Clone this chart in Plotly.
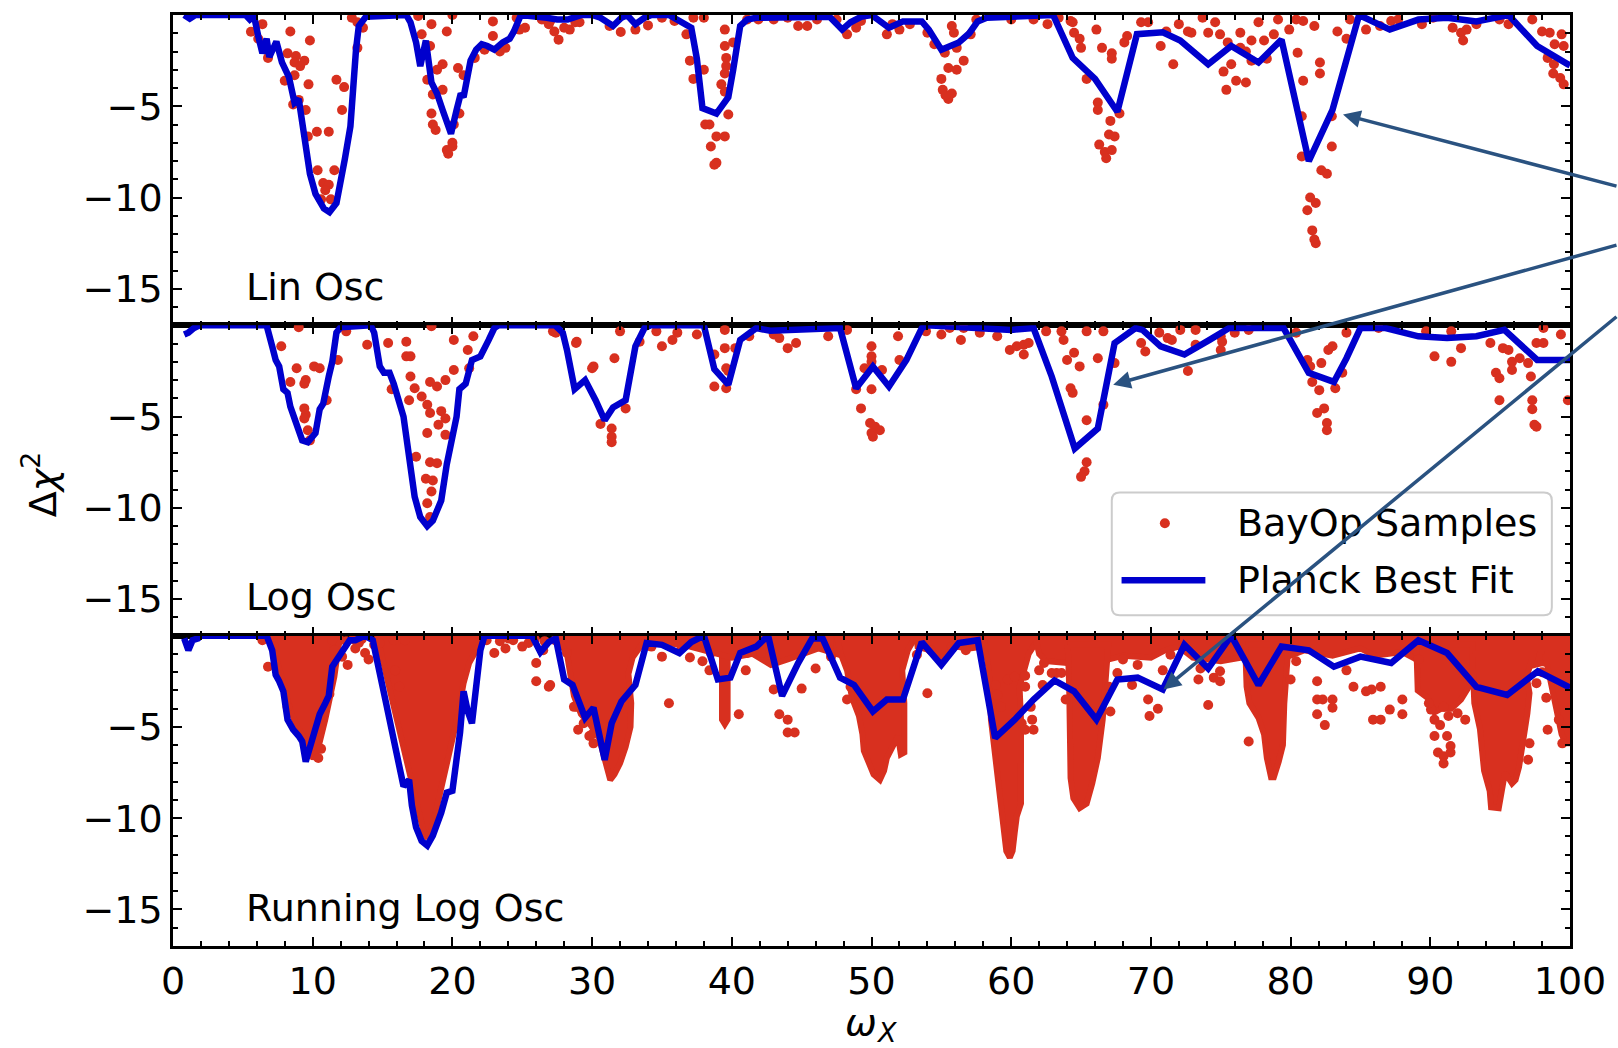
import plotly.graph_objects as go
from plotly.subplots import make_subplots

# ---------------------------------------------------------------------------
# Planck best-fit Delta chi^2 as a function of omega_X, one curve per model
# ---------------------------------------------------------------------------
lin_fit = [
    (0.8, 0.0), (1.2, -0.2), (1.6, 0.0), (5.2, 0.0), (5.5, -0.25), (5.8, -0.05),
    (6.1, -1.15), (6.4, -2.1), (6.7, -1.3), (6.9, -2.3), (7.4, -1.45), (7.8, -2.6),
    (8.3, -3.4), (8.7, -4.8), (9.0, -4.6), (9.4, -6.85), (9.8, -8.7), (10.2, -9.8),
    (10.8, -10.6), (11.2, -10.8), (11.7, -10.3), (12.3, -7.9), (12.7, -6.1),
    (13.1, -1.9), (13.3, -0.6), (13.8, -0.1), (16.7, 0.0), (17.0, -0.4), (17.4, -1.5),
    (17.7, -2.8), (18.1, -1.4), (18.5, -3.7), (18.9, -4.3), (19.3, -5.2), (19.9, -6.5),
    (20.3, -5.2), (20.6, -4.3), (20.8, -4.5), (21.3, -2.5), (21.7, -1.9), (22.1, -1.6),
    (22.5, -1.7), (23.0, -1.9), (23.6, -1.5), (24.1, -1.3), (24.4, -0.9), (24.9, 0.0),
    (26.75, -0.15), (27.5, -0.25), (28.25, -0.25), (29.25, 0.0), (30.0, 0.0),
    (30.6, -0.15), (31.5, -0.6), (32.1, -0.15), (32.5, 0.0), (33.1, -0.5),
    (33.75, -0.15), (34.25, 0.0), (35.5, 0.0), (36.0, -0.25), (37.1, -0.7),
    (37.5, -2.4), (37.9, -5.1), (38.9, -5.4), (39.75, -4.5), (40.1, -3.0), (40.6, -0.6),
    (41.1, -0.25), (41.75, -0.15), (47.0, -0.1), (47.9, -0.8), (48.5, -0.4),
    (49.25, -0.1), (50.0, 0.0), (50.5, -0.25), (51.25, -0.7), (52.25, -0.35),
    (53.6, -0.35), (54.1, -0.8), (55.0, -1.9), (56.25, -1.5), (57.0, -1.0),
    (57.6, -0.35), (58.25, -0.15), (63.0, 0.0), (64.4, -2.35), (66.0, -3.5),
    (67.6, -5.3), (69.0, -1.05), (70.85, -0.95), (72.1, -1.4), (74.1, -2.7),
    (75.75, -1.7), (77.7, -2.6), (79.35, -1.35), (81.3, -8.0), (83.0, -5.2),
    (84.9, 0.0), (87.1, -0.8), (89.15, -0.25), (91.2, -0.15), (93.3, -0.35),
    (95.6, 0.0), (97.65, -1.7), (99.85, -2.7), (100.0, -2.75),
]

log_fit = [
    (0.8, -0.5), (1.1, -0.4), (1.5, -0.15), (1.9, 0.0), (6.7, 0.0), (6.8, -0.4),
    (7.1, -1.15), (7.35, -1.9), (7.6, -2.25), (7.9, -3.5), (8.2, -3.7), (8.4, -4.45),
    (8.85, -5.4), (9.25, -6.3), (9.65, -6.4), (10.2, -5.9), (10.5, -4.6),
    (10.75, -4.3), (11.15, -2.8), (11.4, -2.0), (11.7, -0.4), (12.0, -0.1),
    (14.15, 0.0), (14.4, -0.4), (14.8, -2.25), (15.1, -2.6), (15.5, -2.6),
    (15.8, -3.2), (16.5, -5.0), (16.9, -7.2), (17.3, -9.4), (17.7, -10.5),
    (18.2, -11.0), (18.6, -10.7), (19.2, -9.6), (19.6, -7.6), (20.0, -6.3),
    (20.3, -5.0), (20.5, -3.5), (20.95, -3.2), (21.4, -1.9), (22.0, -1.7),
    (22.6, -0.8), (23.0, -0.15), (23.3, 0.0), (27.35, 0.0), (27.9, -0.4),
    (28.2, -1.35), (28.75, -3.5), (29.5, -3.0), (30.25, -4.1), (30.9, -5.2),
    (31.5, -4.5), (32.4, -4.1), (33.1, -1.15), (33.75, -0.15), (34.2, 0.0),
    (38.0, 0.0), (38.75, -2.4), (39.75, -3.25), (40.6, -0.8), (41.75, -0.15),
    (42.75, -0.3), (44.25, -0.25), (46.0, -0.15), (47.75, -0.15), (48.9, -3.45),
    (50.1, -2.25), (51.25, -3.35), (52.5, -1.9), (53.6, -0.15), (54.0, 0.0),
    (60.0, -0.25), (61.6, -0.15), (62.9, -2.8), (64.55, -6.75), (66.2, -5.65),
    (67.4, -0.97), (68.9, -0.15), (69.4, -0.25), (70.7, -1.15), (72.4, -1.6),
    (74.2, -0.8), (75.6, -0.15), (79.5, -0.15), (81.3, -2.6), (83.1, -3.1),
    (84.0, -1.8), (85.0, -0.15), (86.8, -0.15), (89.15, -0.6), (91.2, -0.7),
    (93.3, -0.6), (95.3, -0.25), (97.65, -1.9), (99.85, -1.9), (100.0, -1.9),
]

run_fit = [
    (0.8, -0.15), (1.1, -0.8), (1.4, -0.25), (1.8, -0.15), (2.0, 0.0), (6.7, 0.0),
    (7.1, -0.8), (7.35, -2.15), (7.6, -2.5), (7.9, -3.05), (8.2, -4.6), (8.6, -5.15),
    (9.0, -5.5), (9.25, -5.8), (9.5, -6.9), (9.8, -6.05), (10.1, -5.3), (10.5, -4.3),
    (10.9, -3.7), (11.15, -3.3), (11.4, -1.7), (11.8, -1.2), (12.25, -0.6),
    (12.65, -0.25), (13.05, -0.25), (13.75, 0.0), (14.3, -0.25), (14.8, -1.9),
    (15.2, -3.5), (15.65, -5.15), (16.05, -6.8), (16.5, -8.25), (16.9, -7.9),
    (17.1, -9.3), (17.4, -10.5), (17.8, -11.25), (18.2, -11.5), (18.6, -10.95),
    (19.2, -9.7), (19.6, -8.6), (20.0, -8.5), (20.3, -6.8), (20.55, -5.3),
    (20.8, -3.05), (21.1, -4.15), (21.4, -4.8), (21.6, -3.15), (22.0, -0.8),
    (22.3, 0.0), (25.7, 0.0), (26.3, -0.9), (26.9, -0.35), (27.4, -0.15),
    (28.0, -2.4), (28.6, -2.7), (29.5, -4.5), (30.1, -3.95), (30.9, -6.8),
    (31.4, -4.8), (32.1, -3.6), (33.1, -2.7), (33.9, -0.4), (35.0, -0.5),
    (36.25, -0.95), (37.1, -0.35), (38.0, 0.0), (39.0, -2.4), (39.9, -2.3),
    (40.6, -0.95), (41.75, -0.6), (42.6, 0.0), (43.6, -3.3), (44.75, -1.5),
    (45.75, -0.15), (46.5, -0.15), (47.75, -2.3), (48.75, -2.7), (50.1, -4.15),
    (51.1, -3.5), (52.25, -3.5), (53.6, -0.35), (55.0, -1.6), (56.25, -0.4),
    (57.6, -0.25), (58.85, -5.6), (60.25, -4.6), (61.6, -3.5), (63.1, -2.45),
    (64.5, -3.05), (66.1, -4.6), (67.6, -2.4), (69.05, -2.3), (70.85, -2.95),
    (72.4, -0.5), (74.1, -1.8), (75.75, 0.0), (77.7, -2.7), (79.35, -0.6),
    (81.3, -0.8), (83.1, -1.7), (85.0, -1.15), (87.2, -1.5), (89.15, -0.25),
    (91.2, -0.95), (93.3, -2.8), (95.5, -3.25), (97.7, -1.95), (99.85, -2.8),
    (100.0, -2.85),
]

# ---------------------------------------------------------------------------
# BayOp samples (omega_X, Delta chi^2)
# ---------------------------------------------------------------------------
lin_samples = [
    (5.58, -0.92), (6.4, -0.5), (6.1, -1.3), (8.4, -0.9), (9.8, -1.4), (6.8, -2.35),
    (8.2, -2.1), (8.8, -2.25), (8.7, -2.6), (9.4, -2.5), (9.1, -2.8), (8.7, -3.3),
    (8.0, -3.6), (9.7, -3.8), (9.0, -4.65), (8.6, -4.9), (9.5, -5.2), (11.7, -3.55),
    (12.25, -3.95), (12.1, -5.2), (10.3, -6.4), (11.15, -6.4), (9.65, -6.65),
    (10.35, -8.5), (11.55, -8.5), (10.75, -9.2), (11.15, -9.3), (10.6, -10.1),
    (11.3, -10.1), (10.9, -9.6), (13.2, -0.4), (13.6, -0.7), (13.2, -1.8), (12.8, -0.15),
    (17.55, -0.05), (18.5, -0.5), (20.0, 0.0), (19.6, -0.9), (17.8, -1.05), (18.4, -1.7),
    (19.3, -2.7), (18.9, -3.0), (20.4, -2.9), (20.8, -3.3), (18.2, -3.55), (18.6, -4.35),
    (19.3, -4.1), (18.5, -5.4), (18.6, -6.0), (18.8, -6.3), (20.1, -6.0), (20.5, -5.4),
    (19.6, -7.4), (20.0, -7.2), (19.7, -7.6), (20.0, -7.0), (21.6, -2.35), (22.3, -1.9),
    (22.9, -0.35), (22.9, -1.15), (23.4, -2.0), (23.8, -1.8), (24.8, -0.8), (25.2, -0.7),
    (24.6, -0.15), (26.4, -0.25), (26.9, -0.5), (27.3, -0.9), (27.6, -1.35), (28.0, -0.7),
    (28.4, -0.8), (28.8, -0.4), (27.0, -0.33), (29.1, -0.4), (31.25, -0.6),
    (32.05, -0.93), (33.1, -0.8), (34.0, -0.57), (35.0, -0.15), (35.9, -0.33),
    (36.75, -1.06), (37.0, -2.5), (37.25, -3.5), (38.0, -3.0), (37.25, -0.15),
    (38.0, -0.15), (39.5, -0.8), (39.5, -1.7), (40.1, -1.5), (39.6, -2.35), (39.6, -2.8),
    (39.5, -3.2), (39.25, -3.8), (39.5, -4.2), (39.75, -5.45), (38.1, -6.0), (38.4, -6.0),
    (38.9, -6.65), (39.5, -6.65), (38.5, -7.2), (38.9, -8.1), (38.75, -8.2),
    (41.1, -0.25), (41.9, -0.25), (43.0, -0.25), (44.0, -0.15), (44.75, -0.6),
    (45.4, -0.6), (46.1, -0.25), (47.5, -0.25), (48.25, -1.06), (48.9, -0.7),
    (49.25, -0.33), (51.1, -1.06), (51.5, -0.5), (52.0, -0.8), (52.75, -0.5),
    (54.0, -0.97), (54.5, -1.6), (55.25, -2.07), (55.75, -0.6), (55.9, -0.97),
    (56.1, -1.8), (56.6, -2.5), (55.5, -2.9), (56.1, -3.0), (55.0, -3.5), (55.1, -4.1),
    (55.75, -4.3), (55.5, -4.6), (55.3, -4.4), (57.1, -1.06), (57.5, -0.25),
    (60.0, -0.25), (61.6, -0.25), (62.6, -0.5), (63.4, -0.15), (64.25, -0.33),
    (64.4, -0.4), (64.5, -0.97), (64.9, -1.3), (65.0, -1.8), (66.1, -0.8), (66.5, -1.8),
    (67.2, -2.1), (67.2, -2.4), (65.4, -3.5), (66.2, -4.8), (66.2, -5.2), (67.1, -5.8),
    (67.0, -6.55), (67.4, -6.65), (66.3, -7.1), (66.7, -7.5), (66.8, -7.85),
    (67.2, -7.4), (67.75, -5.4), (68.3, -1.15), (68.1, -1.5), (69.3, -0.4), (69.8, -0.4),
    (70.7, -1.7), (71.6, -2.7), (71.1, -0.9), (72.0, -0.5), (72.65, -0.9), (72.9, -0.97),
    (73.7, -0.15), (74.1, -0.97), (74.6, -0.4), (74.95, -1.06), (75.2, -3.1),
    (75.4, -4.1), (75.75, -2.7), (75.5, -1.5), (76.1, -3.6), (76.4, -0.97), (76.8, -3.7),
    (77.2, -2.5), (76.8, -2.0), (76.4, -1.8), (77.2, -1.4), (77.7, -0.4), (78.1, -1.4),
    (78.3, -2.4), (78.8, -1.06), (79.1, -0.25), (79.9, -0.8), (80.4, -0.25),
    (80.9, -0.33), (81.7, -0.6), (80.5, -2.07), (80.9, -3.6), (82.1, -2.6), (82.1, -3.2),
    (80.8, -5.55), (82.95, -5.55), (82.95, -7.2), (80.8, -7.75), (82.2, -8.5),
    (82.6, -8.7), (81.4, -10.0), (81.8, -10.3), (81.2, -10.7), (81.55, -11.8),
    (81.7, -12.3), (81.8, -12.5), (83.35, -0.9), (84.0, -1.3), (84.25, -0.25),
    (85.4, -0.8), (86.4, -0.6), (87.2, -0.33), (87.7, -0.25), (89.4, -0.5), (90.2, -0.15),
    (91.6, -0.7), (92.2, -0.97), (92.35, -1.4), (92.6, -0.8), (93.3, -0.5), (94.95, -0.25),
    (95.6, -0.5), (97.3, -0.25), (98.0, -0.9), (98.55, -0.97), (98.4, -2.35),
    (98.9, -1.6), (99.4, -1.06), (99.55, -1.7), (98.8, -3.2), (99.3, -3.45),
    (99.55, -3.8), (98.85, -2.7),
]

log_samples = [
    (9.0, -0.1), (7.75, -1.15), (8.85, -2.35), (8.4, -3.1), (9.5, -3.0), (9.4, -3.2),
    (10.1, -2.25), (10.5, -2.35), (11.0, -4.1), (11.8, -1.9), (9.4, -4.55), (9.5, -4.9),
    (9.4, -5.1), (9.65, -5.75), (9.8, -6.3), (12.4, -0.33), (13.9, -1.06), (15.4, -0.97),
    (16.7, -0.9), (16.7, -1.7), (17.0, -1.7), (15.65, -3.5), (16.9, -4.1), (17.0, -2.8),
    (17.3, -3.45), (17.8, -3.9), (18.4, -3.1), (18.9, -3.35), (19.5, -3.0), (20.1, -2.45),
    (21.2, -2.35), (20.1, -0.8), (21.5, -0.6), (21.1, -1.35), (18.5, -0.05), (18.2, -4.35),
    (18.4, -4.8), (19.2, -4.7), (19.5, -5.1), (19.0, -5.45), (19.5, -6.0), (18.2, -5.9),
    (17.4, -7.2), (18.4, -7.5), (18.9, -7.55), (18.1, -8.4), (18.6, -8.5), (18.5, -9.1),
    (18.2, -9.75), (18.4, -10.5), (28.85, -0.97), (30.1, -2.25), (27.2, -0.33),
    (27.4, -0.4), (28.9, -0.9), (30.0, -2.35), (31.6, -1.8), (32.0, -0.33), (32.4, -4.55),
    (30.6, -5.4), (31.4, -5.65), (31.4, -6.1), (31.4, -6.4), (33.4, -0.9), (34.6, -0.33),
    (35.0, -1.15), (35.75, -0.8), (36.1, -0.4), (37.5, -0.5), (39.5, -0.25), (39.5, -1.25),
    (38.75, -1.6), (40.25, -1.25), (39.6, -2.35), (39.75, -2.5), (38.75, -3.35),
    (39.6, -3.45), (41.25, -0.6), (43.0, -0.5), (43.4, -0.7), (44.0, -1.25), (44.6, -0.97),
    (46.9, -0.6), (48.25, -0.25), (48.9, -3.5), (49.25, -4.55), (49.5, -2.35),
    (50.0, -1.15), (50.0, -1.7), (50.0, -2.0), (50.0, -3.5), (50.75, -2.45),
    (49.9, -5.35), (50.25, -5.55), (50.6, -5.75), (50.0, -5.9), (50.1, -6.1),
    (51.9, -0.6), (52.0, -1.9), (53.9, -0.33), (55.0, -0.5), (55.6, -0.15), (56.4, -0.8),
    (56.6, -0.15), (57.75, -0.4), (59.0, -0.6), (59.9, -1.35), (60.4, -1.15),
    (60.9, -1.6), (60.9, -1.06), (61.25, -0.97), (62.5, -0.33), (63.6, -0.33),
    (63.75, -0.8), (64.5, -1.5), (64.0, -1.9), (64.9, -2.25), (64.25, -3.45),
    (64.4, -3.7), (65.4, -5.2), (65.4, -7.5), (65.25, -8.0), (65.0, -8.3), (65.4, -0.33),
    (66.2, -1.8), (66.6, -0.33), (67.4, -2.07), (66.6, -4.35), (69.3, -0.97),
    (69.6, -1.43), (70.6, -0.4), (71.2, -0.7), (71.5, -0.8), (72.1, -0.25),
    (73.2, -0.25), (73.2, -1.06), (72.65, -2.5), (75.0, -0.6), (75.0, -1.35),
    (75.1, -0.9), (76.0, -0.4), (77.0, -0.25), (80.4, -0.4), (81.2, -1.9),
    (81.4, -2.25), (81.55, -3.1), (82.2, -2.07), (82.7, -1.35), (83.0, -1.15),
    (82.05, -3.55), (83.2, -3.45), (83.7, -2.6), (81.9, -4.8), (82.4, -4.55),
    (82.6, -5.35), (82.6, -5.75), (84.0, -0.4), (86.3, -0.15), (90.3, -1.7),
    (91.5, -2.0), (89.7, -0.33), (91.5, -0.33), (92.2, -1.25), (94.3, -0.97),
    (94.7, -2.6), (94.95, -2.9), (94.95, -4.1), (95.2, -1.25), (95.85, -2.0),
    (95.85, -2.45), (95.6, -1.35), (96.4, -1.8), (97.2, -2.8), (97.3, -4.1),
    (97.3, -4.6), (97.45, -5.45), (97.6, -5.55), (97.6, -0.97), (98.1, -0.97),
    (97.0, -2.07), (99.35, -0.5), (99.85, -4.1), (98.1, -0.15),
]

run_samples = [
    (6.4, -0.25), (6.8, -1.7), (7.2, -0.6), (11.4, -0.25), (11.55, -0.8), (12.1, -1.15),
    (12.5, -1.6), (13.05, -0.7), (13.3, -0.4), (13.75, -0.95), (14.0, -1.3),
    (12.4, -0.3), (12.9, -0.2), (13.5, -0.2), (14.4, -0.5),
    (14.8, -0.4), (15.9, -1.9), (15.8, -0.25), (16.2, -2.8), (16.6, -0.25),
    (10.6, -6.2), (10.4, -6.7), (8.2, -3.9), (11.2, -3.2),
    (22.45, -0.25), (23.0, -0.95), (23.8, -0.7), (24.35, -0.25), (25.0, -0.6),
    (25.45, -0.4), (26.0, -1.5), (26.0, -2.5), (26.9, -2.8), (26.5, -0.8),
    (23.4, -0.3), (24.0, -0.15), (25.9, -0.2), (26.6, -0.3),
    (27.35, -0.25), (28.2, -0.95), (29.0, -5.15), (29.8, -5.5), (29.65, -4.6),
    (30.1, -5.9), (28.7, -3.9), (27.0, -2.7), (28.9, -3.9), (29.4, -4.8),
    (30.0, -5.4), (34.25, -0.6), (35.0, -1.15), (35.5, -3.7), (36.4, -0.6),
    (37.0, -1.2), (37.9, -1.4), (38.4, -1.9), (38.5, -0.95), (40.5, -4.3), (41.0, -1.9),
    (41.1, -0.95), (42.1, -0.95), (43.0, -2.95), (43.4, -4.3), (44.0, -4.6),
    (44.0, -5.3), (44.5, -5.3), (45.0, -2.9), (46.0, -1.8), (46.75, -0.6),
    (47.1, -1.15), (48.25, -3.5), (48.5, -2.8), (49.1, -3.3), (54.0, -3.15),
    (53.25, -1.05), (54.25, -0.8), (55.0, -1.3), (55.75, -0.6), (56.75, -0.8),
    (58.0, -0.95), (58.9, -2.7), (59.0, -3.25), (59.25, -3.9), (60.75, -4.8),
    (61.0, -5.15), (61.5, -4.6), (61.6, -5.15), (61.4, -3.9), (62.0, -1.9),
    (62.25, -2.7), (63.25, -2.05), (63.6, -2.05), (61.0, -2.8), (59.75, -2.4),
    (60.25, -2.25), (61.0, -2.2), (62.35, -1.5), (62.9, -2.05), (63.9, -3.5),
    (67.1, -4.15), (67.0, -2.8), (67.6, -2.05), (68.0, -1.3), (68.65, -2.7),
    (69.05, -1.6), (69.8, -3.5), (69.9, -4.4), (70.5, -4.0), (71.4, -1.05),
    (70.85, -1.9), (72.3, -0.4), (73.55, -1.8), (73.4, -2.4), (74.1, -3.8),
    (74.5, -2.3), (74.95, -2.5), (74.95, -1.95), (77.0, -5.8), (80.0, -2.4),
    (80.4, -1.4), (81.9, -2.5), (81.9, -3.5), (82.3, -3.5), (83.0, -3.5),
    (83.0, -3.95), (81.9, -4.3), (82.45, -4.9), (84.0, -1.9), (84.5, -2.8),
    (85.4, -3.05), (85.8, -2.95), (86.45, -2.8), (85.9, -4.6), (86.45, -4.6),
    (87.1, -4.05), (88.0, -3.5), (88.0, -4.3), (89.15, -1.3), (90.05, -4.05),
    (90.3, -5.5), (90.55, -6.4), (90.95, -6.6), (90.95, -7.0), (91.2, -5.5),
    (91.45, -6.05), (91.45, -6.4), (90.7, -4.9), (90.3, -4.6), (89.9, -3.7),
    (90.95, -3.9), (91.3, -4.4), (91.95, -4.25), (92.5, -4.6), (97.0, -6.8),
    (97.1, -5.9), (98.4, -5.15), (99.2, -4.6), (99.45, -5.9), (98.0, -2.0),
    (97.6, -2.6), (98.3, -3.4),
]

# Outlines of the ranges that the Running Log Osc samples fill solidly
run_dense_regions = [
    [(6.9, 0.0), (7.3, -1.0), (7.9, -2.6), (8.35, -4.0), (8.9, -5.0), (9.4, -5.6),
     (9.8, -6.3), (10.05, -6.75), (10.35, -6.3), (10.6, -5.6), (10.9, -4.6),
     (11.15, -3.7), (11.55, -2.25), (11.85, -0.6), (12.0, 0.0)],
    [(14.6, 0.0), (15.0, -1.3), (15.5, -2.9), (15.95, -4.4), (16.35, -5.9), (16.8, -7.2),
     (17.2, -8.4), (17.6, -9.8), (17.95, -10.8), (18.2, -11.1), (18.45, -10.7),
     (18.8, -9.7), (19.2, -8.4), (19.6, -7.3), (19.9, -6.3), (20.2, -5.0), (20.5, -3.9),
     (20.8, -2.6), (21.2, -1.5), (21.8, -0.6), (22.3, 0.0)],
    [(27.4, 0.0), (28.2, -1.0), (28.7, -3.3), (29.2, -4.3), (29.8, -4.8), (30.5, -5.6),
     (30.95, -6.9), (31.3, -7.9), (31.6, -7.6), (32.0, -7.0), (32.4, -6.1),
     (32.75, -5.0), (32.8, -3.7), (32.6, -2.1), (32.9, -1.2), (33.6, -0.5), (34.0, 0.0)],
    [(39.3, 0.0), (39.3, -4.6), (39.5, -4.85), (39.7, -4.6), (39.7, 0.0)],
    [(34.0, 0.0), (34.0, -0.5), (35.5, -0.4), (37.0, -0.6), (38.5, -0.9), (40.0, -1.2),
     (41.5, -1.0), (42.8, -1.6), (44.0, -1.3), (45.0, -1.0), (46.2, -0.7), (47.5, -1.0),
     (47.5, 0.0)],
    [(47.5, 0.0), (47.8, -1.0), (48.25, -1.9), (48.6, -3.4), (49.1, -4.4), (49.35, -5.4),
     (49.45, -6.3), (49.8, -7.0), (50.15, -7.6), (50.6, -7.9), (50.9, -7.4),
     (51.1, -6.7), (51.5, -6.0), (51.9, -5.5), (52.1, -6.5), (52.35, -6.4), (52.35, -3.7),
     (52.2, -1.9), (52.6, -0.8), (53.2, 0.0)],
    [(53.2, 0.0), (53.3, -0.6), (54.2, -0.8), (55.0, -1.2), (56.0, -0.6), (57.0, -0.7),
     (58.0, -0.6), (58.0, 0.0)],
    [(58.0, 0.0), (58.4, -1.9), (58.55, -4.6), (58.8, -6.4), (59.15, -8.2),
     (59.3, -9.6), (59.45, -10.9), (59.65, -11.8), (59.9, -12.15), (60.1, -11.8),
     (60.25, -10.8), (60.4, -9.9), (60.7, -9.2), (60.75, -6.0), (60.7, -4.6),
     (60.6, -2.8), (61.25, -1.0), (61.75, -0.4), (62.0, 0.0)],
    [(61.7, 0.0), (62.0, -1.0), (62.5, -1.4), (64.0, -1.5), (67.0, -1.3), (68.0, -1.1),
     (70.0, -1.2), (71.0, -0.8), (72.0, -0.6), (73.0, -1.2), (75.0, -1.4), (76.5, -1.2),
     (78.0, -1.5), (80.0, -1.1), (81.0, -0.8), (83.0, -1.1), (85.0, -0.7), (86.0, -1.1),
     (88.0, -0.9), (89.0, -1.3), (92.0, -1.9), (94.0, -1.7), (96.0, -1.9), (98.0, -1.5),
     (100.0, -1.8), (100.0, 0.0)],
    [(64.05, -0.5), (64.15, -2.8), (64.25, -7.8), (64.45, -8.9), (64.9, -9.45),
     (65.4, -9.2), (65.8, -8.1), (66.2, -6.7), (66.55, -4.6), (66.8, -1.3),
     (66.95, -0.5)],
    [(76.75, -0.5), (76.85, -2.8), (77.05, -3.7), (77.7, -4.5), (78.1, -5.4), (78.3, -6.7),
     (78.6, -7.75), (78.8, -7.75), (79.15, -6.9), (79.45, -6.0), (79.55, -3.7),
     (79.7, -1.9), (79.85, -0.5)],
    [(89.0, -0.5), (89.1, -3.0), (89.8, -3.4), (90.3, -4.2), (90.8, -4.0), (91.5, -4.0),
     (92.2, -3.5), (93.0, -2.5), (93.0, -0.5)],
    [(93.0, -1.0), (93.15, -3.7), (93.55, -5.1), (93.85, -7.4), (94.25, -8.5),
     (94.35, -9.4), (94.9, -9.45), (95.15, -8.5), (95.35, -7.5), (95.85, -8.1),
     (96.1, -7.9), (96.35, -7.2), (96.55, -6.4), (96.7, -5.5), (96.95, -4.25),
     (97.1, -3.15), (96.9, -2.25), (97.4, -1.0)],
    [(98.2, -1.0), (98.6, -2.5), (99.0, -4.2), (99.4, -5.4), (99.7, -5.9), (100.0, -5.9),
     (100.0, -1.0)],
]

panel_names = ["Lin Osc", "Log Osc", "Running Log Osc"]
x_ticks = list(range(0, 101, 10))
y_ticks = [-15, -10, -5]

RED = "#d8301f"
BLUE = "#0000cd"
ARROW = "#2a5280"
FONT = "DejaVu Sans"
FS = 38


def split(pairs):
    return [p[0] for p in pairs], [p[1] for p in pairs]


fig = make_subplots(rows=3, cols=1, shared_xaxes=True, vertical_spacing=0)

# dense sample regions of the running model
for region in run_dense_regions:
    rx, ry = split(region + region[:1])
    fig.add_trace(go.Scatter(x=rx, y=ry, mode="lines", fill="toself", fillcolor=RED,
                             line=dict(color=RED, width=6), hoverinfo="skip",
                             showlegend=False), row=3, col=1)

for row, (samples, fit) in enumerate(
        [(lin_samples, lin_fit), (log_samples, log_fit), (run_samples, run_fit)], start=1):
    sx, sy = split(samples)
    fig.add_trace(go.Scatter(x=sx, y=sy, mode="markers", name="BayOp Samples",
                             marker=dict(color=RED, size=10, line=dict(width=0)),
                             showlegend=False), row=row, col=1)
    fx, fy = split(fit)
    fig.add_trace(go.Scatter(x=fx, y=fy, mode="lines", name="Planck Best Fit",
                             line=dict(color=BLUE, width=6.5), showlegend=False),
                  row=row, col=1)

axis_common = dict(
    showline=True, linecolor="black", linewidth=2.5, mirror="allticks",
    ticks="inside", ticklen=9, tickwidth=2, tickcolor="black",
    showgrid=False, zeroline=False,
    tickfont=dict(family=FONT, size=FS, color="black"),
)
for row in range(1, 4):
    fig.update_xaxes(range=[0, 100], tickmode="array", tickvals=x_ticks,
                     showticklabels=(row == 3),
                     minor=dict(ticks="inside", ticklen=5, tickwidth=1.5,
                                tickcolor="black", dtick=2, tick0=0),
                     row=row, col=1, **axis_common)
    fig.update_yaxes(range=[-17, 0], tickmode="array", tickvals=y_ticks,
                     minor=dict(ticks="inside", ticklen=5, tickwidth=1.5,
                                tickcolor="black", dtick=1, tick0=0),
                     row=row, col=1, **axis_common)

# panel names
for row, name in enumerate(panel_names, start=1):
    suffix = "" if row == 1 else str(row)
    fig.add_annotation(x=5.1, y=-14.9, xref="x" + suffix, yref="y" + suffix,
                       text=name, showarrow=False, xanchor="left", yanchor="middle",
                       font=dict(family=FONT, size=FS, color="black"))

# legend box drawn inside the middle panel
lx0, lx1, ly_top, ly_bot = 67.2, 98.7, -9.16, -15.88
rx_, ry_ = 0.57, 0.44
legend_path = (
    f"M {lx0 + rx_},{ly_top} L {lx1 - rx_},{ly_top} Q {lx1},{ly_top} {lx1},{ly_top - ry_} "
    f"L {lx1},{ly_bot + ry_} Q {lx1},{ly_bot} {lx1 - rx_},{ly_bot} "
    f"L {lx0 + rx_},{ly_bot} Q {lx0},{ly_bot} {lx0},{ly_bot + ry_} "
    f"L {lx0},{ly_top - ry_} Q {lx0},{ly_top} {lx0 + rx_},{ly_top} Z"
)
fig.add_shape(type="path", path=legend_path, xref="x2", yref="y2",
              fillcolor="rgba(255,255,255,0.8)", line=dict(color="#cccccc", width=2))
fig.add_shape(type="circle", xref="x2", yref="y2", xsizemode="pixel", ysizemode="pixel",
              xanchor=71.0, yanchor=-10.84, x0=-5, x1=5, y0=-5, y1=5,
              fillcolor=RED, line=dict(width=0))
fig.add_shape(type="line", xref="x2", yref="y2", x0=67.9, x1=73.9, y0=-13.97, y1=-13.97,
              line=dict(color=BLUE, width=6.5))
for label, ly in [("BayOp Samples", -10.84), ("Planck Best Fit", -13.97)]:
    fig.add_annotation(x=76.0, y=ly, xref="x2", yref="y2", text=label, showarrow=False,
                       xanchor="left", yanchor="middle",
                       font=dict(family=FONT, size=FS, color="black"))

# pointer arrows toward the best-fit curves
for axs, hx, hy, ax, ay in [("", 83.75, -5.45, 290, 72),
                             ("2", 67.3, -3.25, 520, -140),
                             ("3", 70.9, -2.95, 470, -374)]:
    fig.add_annotation(x=hx, y=hy, xref="x" + axs, yref="y" + axs, ax=ax, ay=ay,
                       text="", showarrow=True, arrowhead=2, arrowsize=1,
                       arrowwidth=3.5, arrowcolor=ARROW)

# axis titles
fig.add_annotation(x=-0.0955, y=0.4956, xref="paper", yref="paper",
                   text="Δ<i>χ</i><sup>2</sup>", showarrow=False, textangle=-90,
                   xanchor="center", yanchor="middle",
                   font=dict(family=FONT, size=FS, color="black"))
# omega with its subscript X, set as two pieces so the boxes stay compact
fig.add_annotation(x=0.4925, y=-0.0815, xref="paper", yref="paper",
                   text="<i>ω</i>", showarrow=False,
                   xanchor="center", yanchor="middle",
                   font=dict(family=FONT, size=FS, color="black"))
fig.add_annotation(x=0.5108, y=-0.0925, xref="paper", yref="paper",
                   text="<i>X</i>", showarrow=False,
                   xanchor="center", yanchor="middle",
                   font=dict(family=FONT, size=27, color="black"))

fig.update_layout(
    width=1618, height=1048,
    margin=dict(l=173, r=39, t=15, b=102),
    paper_bgcolor="white", plot_bgcolor="white",
    showlegend=False,
    font=dict(family=FONT, size=FS, color="black"),
)

fig.write_html("out.html")
